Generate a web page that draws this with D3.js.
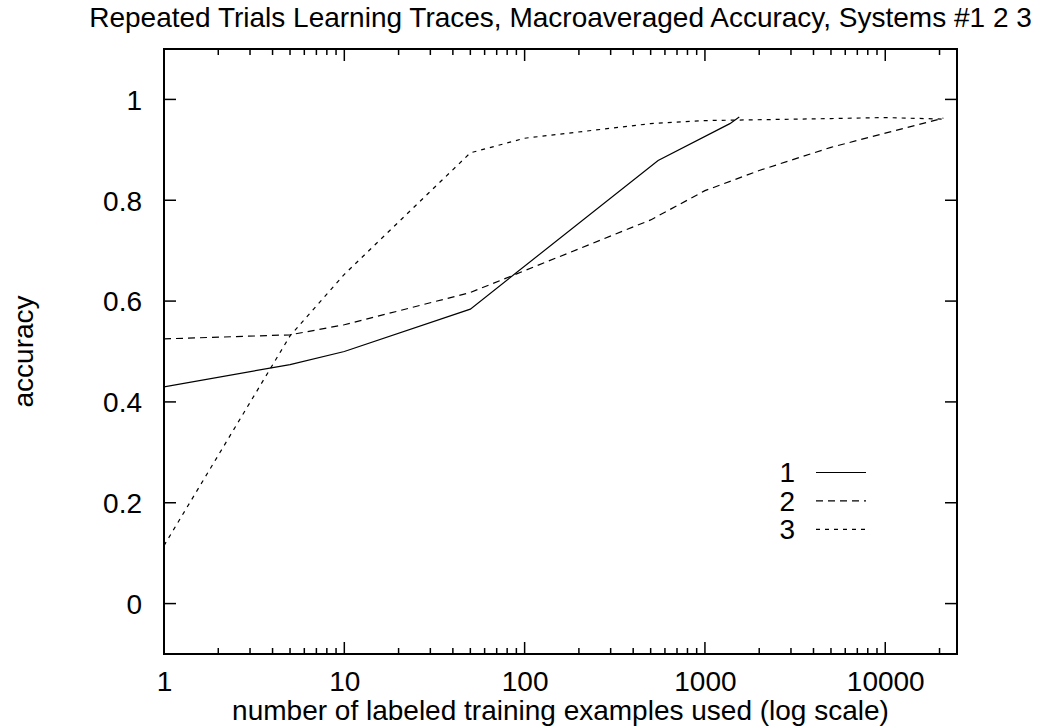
<!DOCTYPE html>
<html>
<head>
<meta charset="utf-8">
<script src="https://cdn.jsdelivr.net/npm/d3@7"></script>
<style>
  html, body { margin: 0; padding: 0; background: #fff; }
  svg { display: block; }
  text { font-family: "Liberation Sans", Arial, Helvetica, sans-serif; fill: #000; }
</style>
</head>
<body>
<svg id="chart" width="1044" height="728"></svg>
<script>
// Learning traces: accuracy against number of labeled training examples
const xTickValues = [1, 10, 100, 1000, 10000];
const yTickValues = [0, 0.2, 0.4, 0.6, 0.8, 1];
const yTickLabels = ["0", "0.2", "0.4", "0.6", "0.8", "1"];

const sys1Examples = [1, 5, 10, 50, 550, 1375, 1550];
const sys1Accuracy = [0.430, 0.474, 0.500, 0.584, 0.879, 0.952, 0.965];

const sys2Examples = [1, 5, 10, 50, 500, 1000, 2000, 5000, 10000, 21000];
const sys2Accuracy = [0.525, 0.533, 0.553, 0.617, 0.761, 0.819, 0.859, 0.905, 0.933, 0.963];

const sys3Examples = [1, 5, 10, 50, 100, 500, 1000, 5000, 10000, 21000];
const sys3Accuracy = [0.115, 0.531, 0.653, 0.894, 0.923, 0.952, 0.958, 0.962, 0.964, 0.961];

const seriesNames = ["1", "2", "3"];
const seriesDash = [null, "7,5", "4,5"];

const svg = d3.select("#chart");
const W = 1044, H = 728;
const margin = { left: 164, right: 1044 - 957, top: 49, bottom: 728 - 654 };
const x0 = margin.left, x1 = W - margin.right, y0 = H - margin.bottom, y1 = margin.top;

const x = d3.scaleLog().domain([1, 25000]).range([x0, x1]);
const y = d3.scaleLinear().domain([-0.1, 1.1]).range([y0, y1]);

const fontSize = 28;
const majorLen = 12, minorLen = 6;

// minor ticks at 2..9 of each decade
const minorTicks = [];
for (let d = 1; d <= 10000; d *= 10) {
  for (let k = 2; k <= 9; k++) {
    const v = d * k;
    if (v < 25000) minorTicks.push(v);
  }
}

const g = svg.append("g");

// bottom and top x axes (gnuplot-style mirrored ticks)
const bottomAxis = d3.axisBottom(x).tickValues(xTickValues).tickSize(0).tickFormat(d3.format("d"));
const ticksG = g.append("g").attr("stroke", "#000").attr("stroke-width", 1.5);

function tickLines(values, len) {
  values.forEach(v => {
    const px = x(v);
    ticksG.append("line").attr("x1", px).attr("x2", px).attr("y1", y0).attr("y2", y0 - len);
    ticksG.append("line").attr("x1", px).attr("x2", px).attr("y1", y1).attr("y2", y1 + len);
  });
}
tickLines(xTickValues, majorLen);
tickLines(minorTicks, minorLen);

yTickValues.forEach(v => {
  const py = y(v);
  ticksG.append("line").attr("x1", x0).attr("x2", x0 + majorLen).attr("y1", py).attr("y2", py);
  ticksG.append("line").attr("x1", x1).attr("x2", x1 - majorLen).attr("y1", py).attr("y2", py);
});

// x tick labels through the axis generator
const bx = g.append("g")
  .attr("transform", `translate(0,${y0})`)
  .call(bottomAxis);
bx.select(".domain").remove();
bx.selectAll("text")
  .attr("font-size", fontSize)
  .attr("font-family", "Liberation Sans, Arial, sans-serif")
  .attr("fill", "#000")
  .attr("dy", null)
  .attr("y", 37);

// y tick labels
const leftAxis = d3.axisLeft(y).tickValues(yTickValues).tickSize(0)
  .tickFormat((d, i) => yTickLabels[i]);
const ly = g.append("g")
  .attr("transform", `translate(${x0},0)`)
  .call(leftAxis);
ly.select(".domain").remove();
ly.selectAll("text")
  .attr("font-size", fontSize)
  .attr("font-family", "Liberation Sans, Arial, sans-serif")
  .attr("fill", "#000")
  .attr("x", -22)
  .attr("dy", "0.35em");

// frame
g.append("rect")
  .attr("x", x0).attr("y", y1)
  .attr("width", x1 - x0).attr("height", y0 - y1)
  .attr("fill", "none").attr("stroke", "#000").attr("stroke-width", 2);

// series lines
const line = d3.line().x(d => x(d[0])).y(d => y(d[1]));
const series = [
  d3.zip(sys1Examples, sys1Accuracy),
  d3.zip(sys2Examples, sys2Accuracy),
  d3.zip(sys3Examples, sys3Accuracy)
];
svg.append("clipPath").attr("id", "plotClip")
  .append("rect").attr("x", x0).attr("y", y1).attr("width", x1 - x0).attr("height", y0 - y1);

series.forEach((s, i) => {
  g.append("path")
    .datum(s)
    .attr("clip-path", "url(#plotClip)")
    .attr("d", line)
    .attr("fill", "none")
    .attr("stroke", "#000")
    .attr("stroke-width", 1.2)
    .attr("stroke-dasharray", seriesDash[i]);
});

// legend
const legend = g.append("g");
seriesNames.forEach((name, i) => {
  const ly0 = 472.5 + i * 28.4;
  legend.append("text")
    .attr("x", 795).attr("y", ly0)
    .attr("dy", "0.35em")
    .attr("text-anchor", "end")
    .attr("font-size", fontSize)
    .text(name);
  legend.append("line")
    .attr("x1", 816).attr("x2", 866)
    .attr("y1", ly0).attr("y2", ly0)
    .attr("stroke", "#000").attr("stroke-width", 1.2)
    .attr("stroke-dasharray", seriesDash[i]);
});

// titles
svg.append("text")
  .attr("x", (x0 + x1) / 2).attr("y", 27)
  .attr("text-anchor", "middle")
  .attr("font-size", fontSize)
  .text("Repeated Trials Learning Traces, Macroaveraged Accuracy, Systems #1 2 3");

svg.append("text")
  .attr("x", (x0 + x1) / 2).attr("y", 720)
  .attr("text-anchor", "middle")
  .attr("font-size", fontSize)
  .text("number of labeled training examples used (log scale)");

svg.append("text")
  .attr("transform", `translate(33,${(y0 + y1) / 2}) rotate(-90)`)
  .attr("text-anchor", "middle")
  .attr("font-size", fontSize)
  .text("accuracy");
</script>
</body>
</html>
